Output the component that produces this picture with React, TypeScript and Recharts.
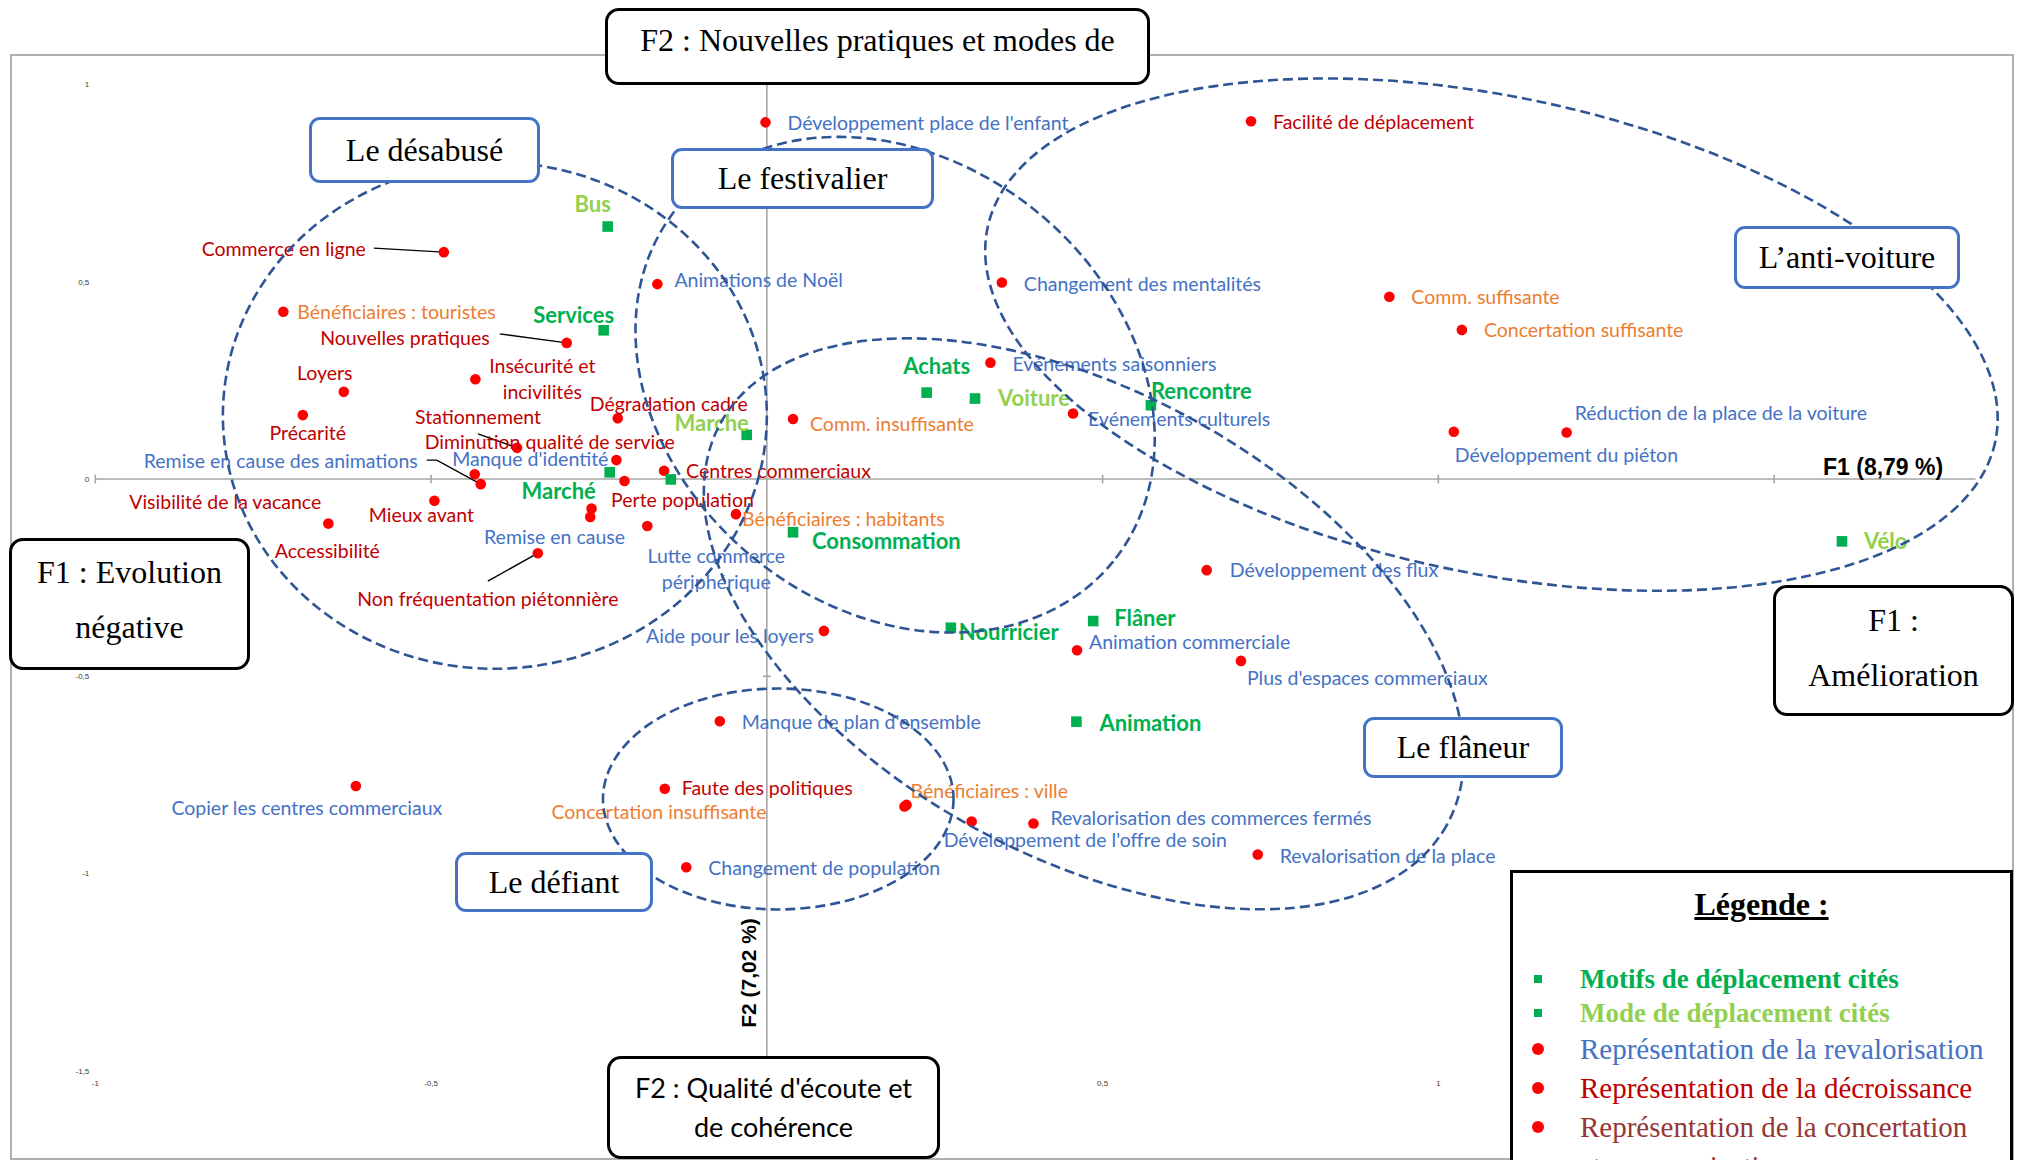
import React from 'react';
import { ScatterChart, Scatter, XAxis, YAxis, ReferenceLine, ReferenceArea } from 'recharts';

// ---------------- DATA (F1 = x, F2 = y) ----------------
const revalorisationLabels = [
  "Développement place de l'enfant", 'Animations de Noël', 'Changement des mentalités', 'Evénements saisonniers',
  'Evénements culturels', 'Réduction de la place de la voiture', 'Développement du piéton', 'Développement des flux',
  'Animation commerciale', "Plus d'espaces commerciaux", "Manque de plan d'ensemble", 'Copier les centres commerciaux',
  'Revalorisation des commerces fermés', "Développement de l'offre de soin", 'Changement de population',
  'Revalorisation de la place', 'Remise en cause des animations', "Manque d'identité", 'Remise en cause',
  'Lutte commerce\npériphérique', 'Aide pour les loyers',
];
const revalorisationF1 = [-0.002, -0.163, 0.35, 0.333, 0.456, 1.191, 1.023, 0.655, 0.462, 0.706, -0.07, -0.612, 0.397, 0.305, -0.12, 0.731, -0.426, -0.224, -0.261, -0.178, 0.085];
const revalorisationF2 = [0.904, 0.494, 0.498, 0.295, 0.166, 0.118, 0.12, -0.231, -0.434, -0.461, -0.614, -0.778, -0.873, -0.868, -0.984, -0.952, -0.013, 0.048, -0.075, -0.119, -0.385];

const decroissanceLabels = [
  'Facilité de déplacement', 'Commerce en ligne', 'Nouvelles pratiques', 'Loyers', 'Insécurité et\nincivilités',
  'Précarité', 'Dégradation cadre', 'Stationnement', 'Diminution qualité de service', 'Centres commerciaux',
  'Perte population', 'Visibilité de la vacance', 'Mieux avant', 'Non fréquentation piétonnière',
  'Faute des politiques', 'Accessibilité',
];
const decroissanceF1 = [0.721, -0.481, -0.298, -0.63, -0.434, -0.691, -0.222, -0.372, -0.435, -0.153, -0.212, -0.263, -0.495, -0.341, -0.152, -0.653];
const decroissanceF2 = [0.907, 0.575, 0.345, 0.221, 0.253, 0.162, 0.154, 0.079, 0.012, 0.021, -0.005, -0.096, -0.055, -0.188, -0.785, -0.113];

const concertationLabels = [
  'Bénéficiaires : touristes', 'Comm. suffisante', 'Concertation suffisante', 'Comm. insuffisante',
  'Bénéficiaires : habitants', 'Concertation insuffisante', 'Bénéficiaires : ville',
];
const concertationF1 = [-0.72, 0.927, 1.035, 0.039, -0.046, 0.205, 0.208];
const concertationF2 = [0.424, 0.462, 0.378, 0.152, -0.089, -0.83, -0.826];

const motifsLabels = ['Services', 'Achats', 'Rencontre', 'Marché', 'Consommation', 'Nourricier', 'Flâner', 'Animation', ''];
const motifsF1 = [-0.243, 0.238, 0.572, -0.234, 0.039, 0.274, 0.486, 0.461, -0.143];
const motifsF2 = [0.377, 0.219, 0.187, 0.017, -0.135, -0.377, -0.36, -0.615, -0.001];

const modesLabels = ['Bus', 'Voiture', 'Marche', 'Vélo'];
const modesF1 = [-0.237, 0.31, -0.03, 1.601];
const modesF2 = [0.64, 0.204, 0.112, -0.158];

const xTicks = [-1, -0.5, 0.5, 1];
const yTicks = [-1.5, -1, -0.5, 0, 0.5, 1];

// profile groups (ellipses, in factor units)
const clusterNames = ['Le désabusé', 'Le festivalier', 'Le flâneur', 'L’anti-voiture', 'Le défiant'];
const clusterCx = [-0.405, 0.191, 0.472, 1.079, 0.017];
const clusterCy = [0.161, 0.239, -0.367, 0.366, -0.811];
const clusterRx = [0.405, 0.418, 0.618, 0.767, 0.261];
const clusterRy = [0.642, 0.567, 0.587, 0.603, 0.28];
const clusterTilt = [0, 39, 29, 12, 0];

const zip = (names: string[], xs: number[], ys: number[]) => names.map((name, i) => ({ name, x: xs[i], y: ys[i] }));
const revalorisationData = zip(revalorisationLabels, revalorisationF1, revalorisationF2);
const decroissanceData = zip(decroissanceLabels, decroissanceF1, decroissanceF2);
const concertationData = zip(concertationLabels, concertationF1, concertationF2);
const motifsData = zip(motifsLabels, motifsF1, motifsF2);
const modesData = zip(modesLabels, modesF1, modesF2);

// ---------------- LABEL PLACEMENT (pixel offsets from marker) ----------------
type Anchor = 'start' | 'middle' | 'end';
const labelPlacement: Record<string, [number, number, Anchor]> = {
  "Développement place de l'enfant": [22, 1, 'start'],
  'Animations de Noël': [17, -4, 'start'],
  'Changement des mentalités': [22, 1, 'start'],
  'Evénements saisonniers': [22, 1, 'start'],
  'Evénements culturels': [15, 5, 'start'],
  'Réduction de la place de la voiture': [8, -19, 'start'],
  'Développement du piéton': [1, 23, 'start'],
  'Développement des flux': [23, 0, 'start'],
  'Animation commerciale': [12, -8, 'start'],
  "Plus d'espaces commerciaux": [6, 17, 'start'],
  "Manque de plan d'ensemble": [22, 1, 'start'],
  'Copier les centres commerciaux': [-49, 22, 'middle'],
  'Revalorisation des commerces fermés': [17, -5, 'start'],
  "Développement de l'offre de soin": [-28, 19, 'start'],
  'Changement de population': [22, 1, 'start'],
  'Revalorisation de la place': [22, 1, 'start'],
  'Remise en cause des animations': [-63, -23, 'end'],
  "Manque d'identité": [-8, -1, 'end'],
  'Remise en cause': [-37, 28, 'middle'],
  'Lutte commerce\npériphérique': [69, 30, 'middle'],
  'Aide pour les loyers': [-10, 5, 'end'],
  'Facilité de déplacement': [22, 1, 'start'],
  'Commerce en ligne': [-78, -3, 'end'],
  'Nouvelles pratiques': [-77, -5, 'end'],
  Loyers: [-19, -19, 'middle'],
  'Insécurité et\nincivilités': [67, -13, 'middle'],
  'Précarité': [5, 18, 'middle'],
  'Dégradation cadre': [51, -14, 'middle'],
  Stationnement: [-39, -31, 'middle'],
  'Diminution qualité de service': [75, -32, 'middle'],
  'Centres commerciaux': [22, 0, 'start'],
  'Perte population': [58, 19, 'middle'],
  'Visibilité de la vacance': [-269, -15, 'end'],
  'Mieux avant': [-13, 14, 'middle'],
  'Non fréquentation piétonnière': [-50, 46, 'middle'],
  'Faute des politiques': [17, -1, 'start'],
  'Accessibilité': [-1, 27, 'middle'],
  'Bénéficiaires : touristes': [14, 0, 'start'],
  'Comm. suffisante': [22, 0, 'start'],
  'Concertation suffisante': [22, 0, 'start'],
  'Comm. insuffisante': [17, 5, 'start'],
  'Bénéficiaires : habitants': [6, 5, 'start'],
  'Concertation insuffisante': [-138, 6, 'end'],
  'Bénéficiaires : ville': [4, -14, 'start'],
  Services: [-30, -15, 'middle'],
  Achats: [10, -27, 'middle'],
  Rencontre: [0, -14, 'start'],
  'Marché': [-51, 19, 'middle'],
  Consommation: [19, 9, 'start'],
  Nourricier: [8, 4, 'start'],
  'Flâner': [21, -3, 'start'],
  Animation: [23, 1, 'start'],
  Bus: [-15, -22, 'middle'],
  Voiture: [23, 0, 'start'],
  Marche: [-35, -12, 'middle'],
  'Vélo': [22, 0, 'start'],
};
const leaderLines: Record<string, [number, number][]> = {
  'Commerce en ligne': [[-70, -4]],
  'Nouvelles pratiques': [[-67, -9]],
  'Remise en cause des animations': [[-54, -24], [-44, -24]],
  Stationnement: [[-39, -14]],
  'Non fréquentation piétonnière': [[-50, 28]],
};

const LABEL_FONT = "Lato, 'Open Sans', sans-serif";
const SERIF = "'Liberation Serif', 'Times New Roman', serif";

const makeShape = (kind: 'square' | 'circle', color: string, bold: boolean, fontSize: number) => (props: any) => {
  const { cx, cy, payload } = props;
  if (cx == null || cy == null || !payload) return <g />;
  const name: string = payload.name;
  const place = labelPlacement[name];
  const leader = leaderLines[name];
  const lines = name ? name.split('\n') : [];
  return (
    <g>
      {leader && (
        <polyline
          points={[...leader.map(([dx, dy]) => `${cx + dx},${cy + dy}`), `${cx},${cy}`].join(' ')}
          fill="none"
          stroke="#000"
          strokeWidth={1.4}
        />
      )}
      {kind === 'square' ? (
        <rect x={cx - 5.3} y={cy - 5.3} width={10.6} height={10.6} fill="#00B050" />
      ) : (
        <circle cx={cx} cy={cy} r={5.3} fill="#FF0000" />
      )}
      {place && lines.length > 0 && (
        <text
          textAnchor={place[2]}
          fill={color}
          fontSize={fontSize}
          fontWeight={bold ? 700 : 400}
          fontFamily={LABEL_FONT}
        >
          {lines.map((l, i) => (
            <tspan key={i} x={cx + place[0]} y={cy + place[1] + i * 26 + fontSize * 0.36}>
              {l}
            </tspan>
          ))}
        </text>
      )}
    </g>
  );
};

const ellipseShape = (tilt: number) => (p: any) => {
  const w = Math.abs(p.width);
  const h = Math.abs(p.height);
  const ex = p.x + p.width / 2;
  const ey = p.y + p.height / 2;
  return (
    <ellipse
      cx={ex}
      cy={ey}
      rx={w / 2}
      ry={h / 2}
      transform={`rotate(${tilt} ${ex} ${ey})`}
      fill="none"
      stroke="#2F5597"
      strokeWidth={2.6}
      strokeDasharray="10 5"
    />
  );
};

const fmt = (v: number) => String(v).replace('.', ',');

const blackBox: React.CSSProperties = {
  position: 'absolute',
  boxSizing: 'border-box',
  background: '#fff',
  border: '3px solid #000',
  borderRadius: 14,
  display: 'flex',
  flexDirection: 'column',
  alignItems: 'center',
  justifyContent: 'center',
  fontFamily: SERIF,
  fontSize: 32,
  color: '#000',
  whiteSpace: 'nowrap',
  overflow: 'hidden',
};
const blueBox: React.CSSProperties = {
  ...blackBox,
  border: '3px solid #4472C4',
  borderRadius: 11,
};

const blueBoxes = [
  { text: 'Le désabusé', left: 309, top: 117, width: 231, height: 66 },
  { text: 'Le festivalier', left: 671, top: 148, width: 263, height: 61 },
  { text: 'L’anti-voiture', left: 1734, top: 226, width: 226, height: 63 },
  { text: 'Le flâneur', left: 1363, top: 717, width: 200, height: 61 },
  { text: 'Le défiant', left: 455, top: 852, width: 198, height: 60 },
];

const legendItems = [
  { text: 'Motifs de déplacement cités', color: '#00B050', bold: true, marker: 'square', y: 109 },
  { text: 'Mode de déplacement cités', color: '#92D050', bold: true, marker: 'square', y: 143 },
  { text: 'Représentation de la revalorisation', color: '#4472C4', bold: false, marker: 'circle', y: 179 },
  { text: 'Représentation de la décroissance', color: '#C00000', bold: false, marker: 'circle', y: 218 },
  { text: 'Représentation de la concertation', color: '#953735', bold: false, marker: 'circle', y: 257 },
  { text: 'et communication', color: '#953735', bold: false, marker: 'none', y: 296 },
];

export default function App() {
  return (
    <div style={{ position: 'absolute', left: 0, top: 0, width: 2017, height: 1160, overflow: 'hidden', background: '#fff' }}>
      {/* plot frame */}
      <div
        style={{
          position: 'absolute',
          left: 10,
          top: 54,
          width: 2004,
          height: 1106,
          boxSizing: 'border-box',
          border: '2px solid #B0B0B0',
        }}
      />
      <div style={{ position: 'absolute', left: 0, top: 0 }}>
        <ScatterChart width={2017} height={1160} margin={{ top: 84.5, right: 41.4, bottom: 59.2, left: 55.3 }}>
          <XAxis
            type="number"
            dataKey="x"
            domain={[-1, 1.8]}
            ticks={xTicks}
            tickFormatter={fmt}
            axisLine={false}
            tickLine={false}
            tickSize={2}
            tickMargin={8}
            height={30}
            tick={{ fontSize: 8, fill: '#404040', fontFamily: 'Liberation Sans' }}
          />
          <YAxis
            type="number"
            dataKey="y"
            domain={[-1.5, 1]}
            ticks={yTicks}
            tickFormatter={fmt}
            axisLine={false}
            tickLine={false}
            tickSize={2}
            tickMargin={4}
            width={40}
            tick={{ fontSize: 8, fill: '#404040', fontFamily: 'Liberation Sans' }}
          />
          <ReferenceLine y={0} stroke="#A6A6A6" strokeWidth={1.6} />
          <ReferenceLine x={0} stroke="#A6A6A6" strokeWidth={1.6} />
          {[-1, -0.5, 0.5, 1, 1.5].map((t) => (
            <ReferenceLine key={'xt' + t} segment={[{ x: t, y: -0.011 }, { x: t, y: 0.011 }]} stroke="#A6A6A6" strokeWidth={1.6} />
          ))}
          {[-0.5, -1].map((t) => (
            <ReferenceLine key={'yt' + t} segment={[{ x: -0.006, y: t }, { x: 0.006, y: t }]} stroke="#A6A6A6" strokeWidth={1.6} />
          ))}
          <Scatter data={revalorisationData} dataKey="y" isAnimationActive={false} shape={makeShape('circle', '#4472C4', false, 19.5)} />
          <Scatter data={decroissanceData} dataKey="y" isAnimationActive={false} shape={makeShape('circle', '#C00000', false, 19.5)} />
          <Scatter data={concertationData} dataKey="y" isAnimationActive={false} shape={makeShape('circle', '#ED7D31', false, 19.5)} />
          <Scatter data={motifsData} dataKey="y" isAnimationActive={false} shape={makeShape('square', '#00B050', true, 22)} />
          <Scatter data={modesData} dataKey="y" isAnimationActive={false} shape={makeShape('square', '#92D050', true, 22)} />
          {clusterNames.map((n, i) => (
            <ReferenceArea
              key={n}
              x1={clusterCx[i] - clusterRx[i]}
              x2={clusterCx[i] + clusterRx[i]}
              y1={clusterCy[i] - clusterRy[i]}
              y2={clusterCy[i] + clusterRy[i]}
              ifOverflow="visible"
              zIndex={900}
              shape={ellipseShape(clusterTilt[i])}
            />
          ))}
        </ScatterChart>
      </div>

      {/* axis titles */}
      <div
        style={{
          position: 'absolute',
          left: 1823,
          top: 452,
          fontFamily: "'Liberation Sans', Arial, sans-serif",
          fontWeight: 700,
          fontSize: 23,
          lineHeight: '30px',
          color: '#000',
          whiteSpace: 'nowrap',
        }}
      >
        F1 (8,79 %)
      </div>
      <div
        style={{
          position: 'absolute',
          left: 749,
          top: 973,
          transform: 'translate(-50%, -50%) rotate(-90deg)',
          fontFamily: "'Liberation Sans', Arial, sans-serif",
          fontWeight: 700,
          fontSize: 21,
          lineHeight: '24px',
          color: '#000',
          whiteSpace: 'nowrap',
        }}
      >
        F2 (7,02 %)
      </div>

      {/* factor boxes */}
      <div style={{ ...blackBox, left: 605, top: 8, width: 545, height: 77, justifyContent: 'flex-start', paddingTop: 8, lineHeight: '42px' }}>
        F2 : Nouvelles pratiques et modes de
      </div>
      <div style={{ ...blackBox, left: 9, top: 538, width: 241, height: 132, lineHeight: '55px', paddingBottom: 8 }}>
        <div>F1 : Evolution</div>
        <div>négative</div>
      </div>
      <div style={{ ...blackBox, left: 1773, top: 585, width: 241, height: 131, lineHeight: '55px', paddingBottom: 6 }}>
        <div>F1 :</div>
        <div>Amélioration</div>
      </div>
      <div style={{ ...blackBox, left: 607, top: 1056, width: 333, height: 103, fontFamily: LABEL_FONT, fontSize: 27, lineHeight: '38.6px' }}>
        <div>F2 : Qualité d'écoute et</div>
        <div>de cohérence</div>
      </div>

      {/* profile boxes */}
      {blueBoxes.map((b) => (
        <div key={b.text} style={{ ...blueBox, left: b.left, top: b.top, width: b.width, height: b.height }}>
          {b.text}
        </div>
      ))}

      {/* legend */}
      <div
        style={{
          position: 'absolute',
          left: 1510,
          top: 870,
          width: 503,
          height: 310,
          boxSizing: 'border-box',
          border: '3px solid #000',
          background: '#fff',
          fontFamily: SERIF,
        }}
      >
        <div
          style={{
            position: 'absolute',
            left: 0,
            width: 497,
            top: 12,
            textAlign: 'center',
            fontWeight: 700,
            fontSize: 32,
            lineHeight: '38px',
            textDecoration: 'underline',
            color: '#000',
          }}
        >
          Légende :
        </div>
        {legendItems.map((it) => (
          <React.Fragment key={it.text}>
            {it.marker === 'square' && (
              <div style={{ position: 'absolute', left: 21, top: it.y - 3 - 4, width: 8, height: 8, background: '#00B050' }} />
            )}
            {it.marker === 'circle' && (
              <div style={{ position: 'absolute', left: 19, top: it.y - 3 - 6, width: 12, height: 12, borderRadius: 6, background: '#FF0000' }} />
            )}
            <div
              style={{
                position: 'absolute',
                left: 67,
                top: it.y - 3 - 20,
                lineHeight: '40px',
                fontSize: it.bold ? 27 : 29,
                fontWeight: it.bold ? 700 : 400,
                color: it.color,
                whiteSpace: 'nowrap',
              }}
            >
              {it.text}
            </div>
          </React.Fragment>
        ))}
      </div>
    </div>
  );
}
